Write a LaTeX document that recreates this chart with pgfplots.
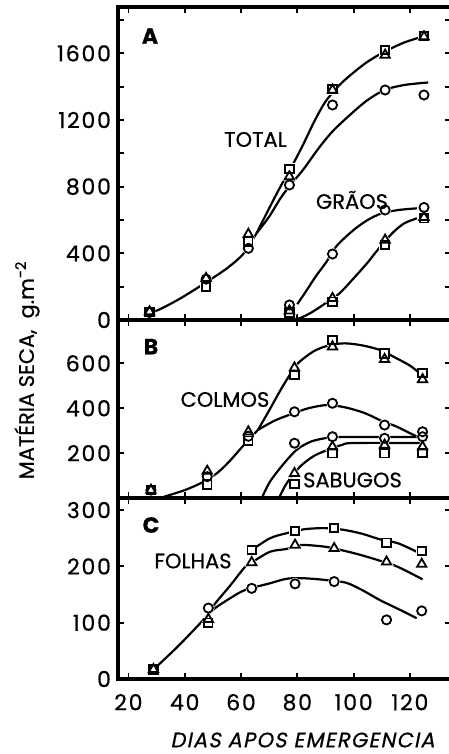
\documentclass[border=0pt]{standalone}
\usepackage{pgfplots}
\pgfplotsset{compat=1.18}
\usepackage{pgfplotstable}
\usepackage{fontspec}
\setmainfont{Poppins}[FakeBold=0.6]
\newfontfamily\slfont[FakeSlant=0.2, FakeBold=0.6, LetterSpace=6]{Poppins}
\newfontfamily\tickfont[FakeBold=0.6, LetterSpace=8]{Poppins}

\pgfplotstableread{
x     tc    tt    ts    gc   gt   gs
27.5  45    50    50    nan  nan  nan
47.6  245   250   200   nan  nan  nan
62.6  430   515   470   nan  nan  nan
77.2  810   860   905   90   55   45
92.5  1290  1380  1385  396  130  110
111.2 1380  1590  1620  660  480  450
125   1350  1700  1705  675  616  610
}\tabA

\pgfplotstableread{
x     cc   ct   cs   sc   st   ss
28    35   35   35   nan  nan  nan
48    95   120  60   nan  nan  nan
62.6  275  295  255  nan  nan  nan
79    384  580  548  244  110  62
92.5  422  674  704  273  228  199
111   325  618  644  266  236  199
124.5 295  528  557  273  228  200
}\tabB

\pgfplotstableread{
x     c    t    s
28.9  17   17   17
48.4  126  106  100
63.8  161  207  229
79.2  169  238  263
93.1  173  232  268
111.7 105  208  242
124.2 121  204  227
}\tabC

\pgfplotsset{
  panel/.style={scale only axis, width=166.5pt, xmin=16.3, xmax=134.6,
    axis line style={line width=1.6pt}, tick style={black, line width=0.9pt},
    major tick length=3pt, minor tick length=3pt, tick align=inside,
    xtick={20,40,...,120},
    ticklabel style={font=\fontsize{11}{12}\tickfont},
    /pgf/number format/assume math mode=true,
    /pgf/number format/1000 sep={}},
  crv/.style={black, line width=1.1pt, smooth, tension=0.5, mark=none},
  haloC/.style={only marks, mark=*, mark size=2.3pt, mark options={fill=white, draw=white, line width=1.5pt}},
  haloT/.style={only marks, mark=triangle*, mark size=2.7pt, mark options={fill=white, draw=white, line width=1.5pt}},
  haloS/.style={only marks, mark=square*, mark size=2.1pt, mark options={fill=white, draw=white, line width=1.5pt}},
  mC/.style={only marks, mark=o, mark size=2.3pt, mark options={draw=black, line width=0.9pt}},
  mT/.style={only marks, mark=triangle, mark size=2.7pt, mark options={draw=black, line width=0.9pt}},
  mS/.style={only marks, mark=square, mark size=2.1pt, mark options={draw=black, line width=0.9pt}},
}

\begin{document}
\begin{tikzpicture}
\path[use as bounding box] (0,0) rectangle (224.5pt,377pt);

% ---------------- Panel A ----------------
\begin{axis}[panel, at={(59pt,217pt)}, anchor=south west, height=156.5pt,
  ymin=0, ymax=1878, ytick={0,400,...,1600}, minor ytick={200,600,...,1800},
  xticklabels={}]
\addplot[crv] coordinates {(27.5,45)(30.6,60)(38,125)(46.6,215)(55,310)(61,400)(65.5,520)};
\addplot[crv] coordinates {(65.5,520)(70,670)(74,800)(78,920)(82,1050)(86,1190)(90,1310)(95,1410)(100,1485)(105,1550)(111,1610)(118,1665)(124.5,1700)};
\addplot[crv] coordinates {(65.5,520)(70,620)(74,730)(78,820)(82,900)(88,1040)(93,1140)(100,1250)(105,1320)(111,1380)(118,1410)(126.5,1425)};
\addplot[crv] coordinates {(80,95)(83,170)(86.5,260)(90.4,350)(94,445)(100,540)(105,600)(110,640)(116,660)(122.5,670)};
\addplot[crv] coordinates {(73.5,0)(78,3)(81,12)(85,45)(90,100)(95,160)(100,250)(105,345)(109,430)(114,525)(118,580)(122.5,610)};
\addplot[haloC] table[x=x,y=tc]{\tabA};
\addplot[haloT] table[x=x,y=tt]{\tabA};
\addplot[haloS] table[x=x,y=ts]{\tabA};
\addplot[haloC] table[x=x,y=gc]{\tabA};
\addplot[haloT] table[x=x,y=gt]{\tabA};
\addplot[haloS] table[x=x,y=gs]{\tabA};
\addplot[mC] table[x=x,y=tc]{\tabA};
\addplot[mT] table[x=x,y=tt]{\tabA};
\addplot[mS] table[x=x,y=ts]{\tabA};
\addplot[mC] table[x=x,y=gc]{\tabA};
\addplot[mT] table[x=x,y=gt]{\tabA};
\addplot[mS] table[x=x,y=gs]{\tabA};
\end{axis}

% ---------------- Panel B ----------------
\begin{axis}[panel, at={(59pt,128pt)}, anchor=south west, height=89pt,
  ymin=0, ymax=793, ytick={200,400,600}, xticklabels={}]
\addplot[crv] coordinates {(32.5,5)(40,35)(46,68)(51.4,110)(56,165)(61,236)(66,303)};
\addplot[crv] coordinates {(66,303)(70,390)(74,480)(77.3,548)(80.2,600)(86,655)(91.6,681)(96.9,689)(103,680)(109.4,659)(115.3,622)(120,590)(123.6,555)};
\addplot[crv] coordinates {(66,303)(72,345)(78.6,377)(84,400)(90.4,414)(96.9,404)(104,378)(110.5,340)(115.3,318)(123.6,266)};
\addplot[crv] coordinates {(67.4,0)(70.3,73)(75,150)(79.8,215)(85,252)(91.6,270)(97,272)(124,272)};
\addplot[crv] coordinates {(73.5,0)(76.2,65)(81,140)(86,188)(91.6,218)(96,237)(100,245)(124,245)};
\addplot[haloC] table[x=x,y=cc]{\tabB};
\addplot[haloT] table[x=x,y=ct]{\tabB};
\addplot[haloS] table[x=x,y=cs]{\tabB};
\addplot[haloC] table[x=x,y=sc]{\tabB};
\addplot[haloT] table[x=x,y=st]{\tabB};
\addplot[haloS] table[x=x,y=ss]{\tabB};
\addplot[mC] table[x=x,y=cc]{\tabB};
\addplot[mT] table[x=x,y=ct]{\tabB};
\addplot[mS] table[x=x,y=cs]{\tabB};
\addplot[mC] table[x=x,y=sc]{\tabB};
\addplot[mT] table[x=x,y=st]{\tabB};
\addplot[mS] table[x=x,y=ss]{\tabB};
\end{axis}

% ---------------- Panel C ----------------
\begin{axis}[panel, at={(59pt,37.5pt)}, anchor=south west, height=90.5pt,
  ymin=0, ymax=321.5, ytick={0,100,200,300},
  xticklabel style={yshift=-4pt}]
\addplot[crv] coordinates {(28.9,17)(31.3,28)(38,60)(45.5,99)(48.4,115)};
\addplot[crv] coordinates {(48.4,115)(50.8,126)(56,143)(61.4,158)(70.3,170)(76.2,178)(82,179)(89.8,176)(97.3,171)(103,158)(109.4,140)(116,124)(122.4,108)};
\addplot[crv] coordinates {(48.4,115)(50.8,134)(56,165)(61.4,199)(63.8,207)(70.3,226)(76.2,231)(81.3,238)(89.8,235)(95.6,229)(102,221)(109.4,210)(115.8,199)(124.5,177)};
\addplot[crv] coordinates {(63.8,229)(70.3,250)(76.2,259)(82.5,266)(89.8,268)(96.4,265)(103,258)(109.4,248)(115.8,241)(122.4,226)};
\addplot[haloC] table[x=x,y=c]{\tabC};
\addplot[haloT] table[x=x,y=t]{\tabC};
\addplot[haloS] table[x=x,y=s]{\tabC};
\addplot[mC] table[x=x,y=c]{\tabC};
\addplot[mT] table[x=x,y=t]{\tabC};
\addplot[mS] table[x=x,y=s]{\tabC};
\end{axis}

% ---------------- Text ----------------
\begin{scope}[every node/.style={inner sep=0pt, font=\fontsize{10.5}{12}\selectfont}]
\node[font=\fontsize{11}{12}\selectfont\bfseries] at (75pt,359pt) {A};
\node[font=\fontsize{11}{12}\selectfont\bfseries] at (75.5pt,203.7pt) {B};
\node[font=\fontsize{11}{12}\selectfont\bfseries] at (75.5pt,114.5pt) {C};
\node at (127.75pt,307.25pt) {TOTAL};
\node at (176pt,277pt) {GRÃOS};
\node at (112.5pt,177.25pt) {COLMOS};
\node at (176.25pt,137pt) {SABUGOS};
\node at (96.5pt,96.5pt) {FOLHAS};
\node[rotate=90] at (13.5pt,192pt) {MATÉRIA SECA,\ \ g.m\textsuperscript{-2}};
\node[font=\fontsize{10.5}{12}\slfont] at (151.25pt,7pt) {DIAS APOS EMERGENCIA};
\end{scope}
\end{tikzpicture}
\end{document}
